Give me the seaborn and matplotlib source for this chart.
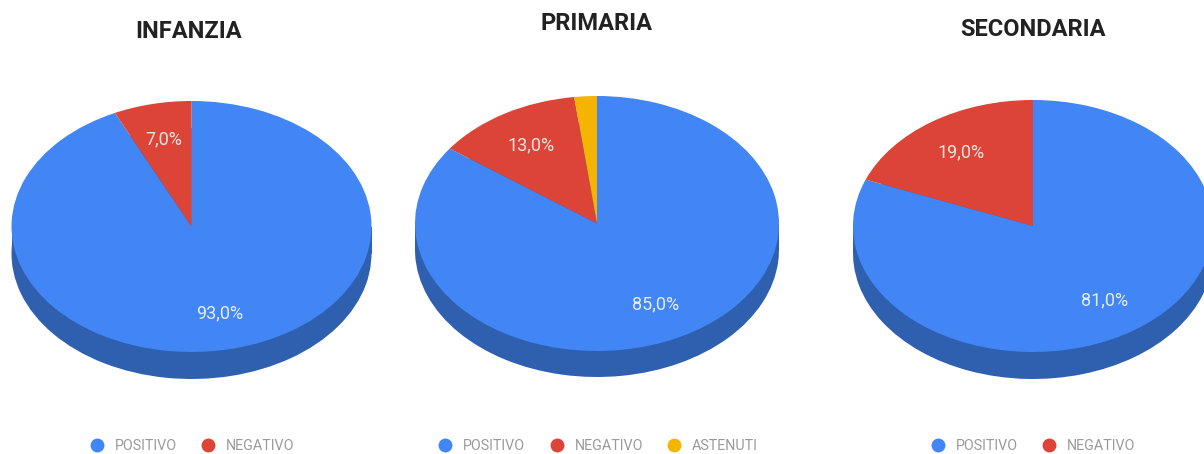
import matplotlib
matplotlib.use("Agg")
import matplotlib.pyplot as plt
from matplotlib.lines import Line2D
from matplotlib.patches import Rectangle
import seaborn as sns

titles = ["INFANZIA", "PRIMARIA", "SECONDARIA"]
categories = ["POSITIVO", "NEGATIVO", "ASTENUTI"]
infanzia = [93.0, 7.0]
primaria = [85.0, 13.0, 2.0]
secondaria = [81.0, 19.0]
palette = ["#4285F4", "#DB4437", "#F4B400"]
side_colour = "#2F5FAF"

W, H = 1204, 454
sns.set_theme(style="white")
plt.rcParams["font.family"] = ["Roboto", "DejaVu Sans"]
fig = plt.figure(figsize=(W / 100, H / 100), dpi=100)

# geometry in pixels: cx, cy, rx, ry, depth, title(x,y), legend-x
layout = [
    (191.5, 226.5, 180, 125.5, 27, (189, 31), 192),
    (597, 223.5, 182, 127.5, 26, (597, 23), 598),
    (1033, 226, 180, 126, 27, (1033, 29), 1033),
]
series = [infanzia, primaria, secondaria]

def fmt(p):
    return "" if p < 5 else f"{p:.1f}%".replace(".", ",")

for vals, title, (cx, cy, rx, ry, d, tp, lx) in zip(series, titles, layout):
    ax = fig.add_axes([(cx - rx) / W, 1 - (cy + ry + d) / H, 2 * rx / W, (2 * ry + d) / H])
    dn = d / ry
    cols = palette[: len(vals)]
    # extruded side
    ax.pie(vals, colors=[side_colour] * len(vals), center=(0, -dn), radius=1,
           startangle=90, counterclock=False, wedgeprops=dict(lw=0))
    ax.add_patch(Rectangle((-1, -dn), 2, dn, fc=side_colour, lw=0))
    # top face
    _, _, autotexts = ax.pie(vals, colors=cols, center=(0, 0), radius=1, startangle=90,
                             counterclock=False, autopct=fmt, pctdistance=0.71,
                             wedgeprops=dict(lw=0),
                             textprops=dict(color="white", fontsize=13, alpha=0.85))
    ax.set_aspect("auto")
    ax.set_xlim(-1, 1)
    ax.set_ylim(-1 - dn, 1)
    ax.axis("off")
    fig.text(tp[0] / W, 1 - tp[1] / H, title, ha="center", va="center",
             fontsize=17, fontweight="bold", color="#222222")
    handles = [Line2D([], [], ls="", marker="o", ms=10, color=c, mew=0) for c in cols]
    fig.legend(handles, categories[: len(vals)], loc="center",
               bbox_to_anchor=(lx / W, 1 - 446 / H), ncol=len(vals), frameon=False,
               fontsize=10.3, labelcolor="#9a9a9a", handlelength=1, handletextpad=0.75,
               columnspacing=1.68, borderpad=0, borderaxespad=0)

fig.savefig("out.png", dpi=100)
